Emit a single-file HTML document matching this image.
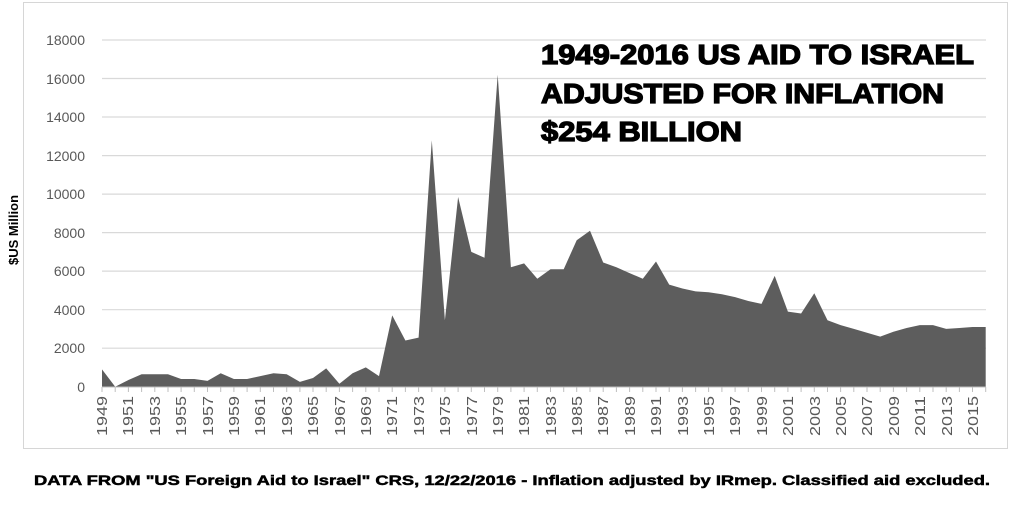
<!DOCTYPE html>
<html><head><meta charset="utf-8"><style>
html,body{margin:0;padding:0;background:#fff;width:1024px;height:512px;overflow:hidden}
svg{display:block}
</style></head><body>
<svg width="1024" height="512" viewBox="0 0 1024 512" xmlns="http://www.w3.org/2000/svg" font-family="Liberation Sans, Arial, sans-serif">
<rect x="0" y="0" width="1024" height="512" fill="#fff"/>
<rect x="23.5" y="2.5" width="984" height="446" fill="none" stroke="#d6d6d6" stroke-width="1"/>
<g stroke="#d9d9d9" stroke-width="1.2">
<line x1="102" x2="986" y1="40.0" y2="40.0"/>
<line x1="102" x2="986" y1="78.5" y2="78.5"/>
<line x1="102" x2="986" y1="117.0" y2="117.0"/>
<line x1="102" x2="986" y1="155.6" y2="155.6"/>
<line x1="102" x2="986" y1="194.1" y2="194.1"/>
<line x1="102" x2="986" y1="232.6" y2="232.6"/>
<line x1="102" x2="986" y1="271.1" y2="271.1"/>
<line x1="102" x2="986" y1="309.7" y2="309.7"/>
<line x1="102" x2="986" y1="348.2" y2="348.2"/>
</g>
<g font-size="14" fill="#595959" text-anchor="end">
<text x="85" y="45">18000</text>
<text x="85" y="84">16000</text>
<text x="85" y="122">14000</text>
<text x="85" y="161">12000</text>
<text x="85" y="199">10000</text>
<text x="85" y="238">8000</text>
<text x="85" y="276">6000</text>
<text x="85" y="315">4000</text>
<text x="85" y="353">2000</text>
<text x="85" y="392">0</text>
</g>
<path fill="#5d5d5d" d="M102,386.7 L102,369.4 L115.2,386.7 L128.4,380.0 L141.6,374.2 L154.8,374.2 L168.0,374.2 L181.1,379.0 L194.3,379.0 L207.5,380.9 L220.7,373.2 L233.9,379.0 L247.1,379.0 L260.3,376.1 L273.5,373.2 L286.7,374.2 L299.9,381.9 L313.0,378.0 L326.2,368.4 L339.4,383.8 L352.6,373.2 L365.8,367.4 L379.0,376.1 L392.2,315.4 L405.4,340.5 L418.6,337.6 L431.8,140.2 L444.9,320.3 L458.1,197.0 L471.3,251.9 L484.5,257.7 L497.7,74.7 L510.9,267.3 L524.1,263.4 L537.3,278.8 L550.5,269.2 L563.7,269.2 L576.7,240.3 L590.0,230.7 L603.2,262.5 L616.4,267.3 L629.6,273.1 L642.8,278.8 L656.0,261.5 L669.2,284.6 L682.4,288.5 L695.6,291.4 L708.6,292.3 L721.9,294.3 L735.1,297.1 L748.3,301.0 L761.5,303.9 L774.7,275.9 L787.9,311.6 L801.1,313.5 L814.3,293.3 L827.5,320.3 L840.6,325.1 L853.8,328.9 L867.0,332.8 L880.2,336.6 L893.4,331.8 L906.6,328.0 L919.8,325.1 L933.0,325.1 L946.2,328.9 L959.4,328.0 L972.5,327.0 L985.7,327.0 L985.7,386.7 Z"/>
<line x1="102" x2="986" y1="387" y2="387" stroke="#bfbfbf" stroke-width="1"/>
<path stroke="#bfbfbf" stroke-width="1" d="M102,387v5M115.2,387v5M128.4,387v5M141.6,387v5M154.8,387v5M168,387v5M181.1,387v5M194.3,387v5M207.5,387v5M220.7,387v5M233.9,387v5M247.1,387v5M260.3,387v5M273.5,387v5M286.7,387v5M299.9,387v5M313,387v5M326.2,387v5M339.4,387v5M352.6,387v5M365.8,387v5M379,387v5M392.2,387v5M405.4,387v5M418.6,387v5M431.8,387v5M444.9,387v5M458.1,387v5M471.3,387v5M484.5,387v5M497.7,387v5M510.9,387v5M524.1,387v5M537.3,387v5M550.5,387v5M563.7,387v5M576.7,387v5M590,387v5M603.2,387v5M616.4,387v5M629.6,387v5M642.8,387v5M656,387v5M669.2,387v5M682.4,387v5M695.6,387v5M708.6,387v5M721.9,387v5M735.1,387v5M748.3,387v5M761.5,387v5M774.7,387v5M787.9,387v5M801.1,387v5M814.3,387v5M827.5,387v5M840.6,387v5M853.8,387v5M867,387v5M880.2,387v5M893.4,387v5M906.6,387v5M919.8,387v5M933,387v5M946.2,387v5M959.4,387v5M972.5,387v5M985.7,387v5"/>
<g font-size="15" fill="#595959" text-anchor="end">
<text transform="translate(107,396) rotate(-90)" textLength="40" lengthAdjust="spacingAndGlyphs">1949</text>
<text transform="translate(133,396) rotate(-90)" textLength="40" lengthAdjust="spacingAndGlyphs">1951</text>
<text transform="translate(160,396) rotate(-90)" textLength="40" lengthAdjust="spacingAndGlyphs">1953</text>
<text transform="translate(186,396) rotate(-90)" textLength="40" lengthAdjust="spacingAndGlyphs">1955</text>
<text transform="translate(213,396) rotate(-90)" textLength="40" lengthAdjust="spacingAndGlyphs">1957</text>
<text transform="translate(239,396) rotate(-90)" textLength="40" lengthAdjust="spacingAndGlyphs">1959</text>
<text transform="translate(265,396) rotate(-90)" textLength="40" lengthAdjust="spacingAndGlyphs">1961</text>
<text transform="translate(292,396) rotate(-90)" textLength="40" lengthAdjust="spacingAndGlyphs">1963</text>
<text transform="translate(318,396) rotate(-90)" textLength="40" lengthAdjust="spacingAndGlyphs">1965</text>
<text transform="translate(345,396) rotate(-90)" textLength="40" lengthAdjust="spacingAndGlyphs">1967</text>
<text transform="translate(371,396) rotate(-90)" textLength="40" lengthAdjust="spacingAndGlyphs">1969</text>
<text transform="translate(397,396) rotate(-90)" textLength="40" lengthAdjust="spacingAndGlyphs">1971</text>
<text transform="translate(424,396) rotate(-90)" textLength="40" lengthAdjust="spacingAndGlyphs">1973</text>
<text transform="translate(450,396) rotate(-90)" textLength="40" lengthAdjust="spacingAndGlyphs">1975</text>
<text transform="translate(477,396) rotate(-90)" textLength="40" lengthAdjust="spacingAndGlyphs">1977</text>
<text transform="translate(503,396) rotate(-90)" textLength="40" lengthAdjust="spacingAndGlyphs">1979</text>
<text transform="translate(529,396) rotate(-90)" textLength="40" lengthAdjust="spacingAndGlyphs">1981</text>
<text transform="translate(556,396) rotate(-90)" textLength="40" lengthAdjust="spacingAndGlyphs">1983</text>
<text transform="translate(582,396) rotate(-90)" textLength="40" lengthAdjust="spacingAndGlyphs">1985</text>
<text transform="translate(608,396) rotate(-90)" textLength="40" lengthAdjust="spacingAndGlyphs">1987</text>
<text transform="translate(635,396) rotate(-90)" textLength="40" lengthAdjust="spacingAndGlyphs">1989</text>
<text transform="translate(661,396) rotate(-90)" textLength="40" lengthAdjust="spacingAndGlyphs">1991</text>
<text transform="translate(688,396) rotate(-90)" textLength="40" lengthAdjust="spacingAndGlyphs">1993</text>
<text transform="translate(714,396) rotate(-90)" textLength="40" lengthAdjust="spacingAndGlyphs">1995</text>
<text transform="translate(740,396) rotate(-90)" textLength="40" lengthAdjust="spacingAndGlyphs">1997</text>
<text transform="translate(767,396) rotate(-90)" textLength="40" lengthAdjust="spacingAndGlyphs">1999</text>
<text transform="translate(793,396) rotate(-90)" textLength="40" lengthAdjust="spacingAndGlyphs">2001</text>
<text transform="translate(820,396) rotate(-90)" textLength="40" lengthAdjust="spacingAndGlyphs">2003</text>
<text transform="translate(846,396) rotate(-90)" textLength="40" lengthAdjust="spacingAndGlyphs">2005</text>
<text transform="translate(872,396) rotate(-90)" textLength="40" lengthAdjust="spacingAndGlyphs">2007</text>
<text transform="translate(899,396) rotate(-90)" textLength="40" lengthAdjust="spacingAndGlyphs">2009</text>
<text transform="translate(925,396) rotate(-90)" textLength="40" lengthAdjust="spacingAndGlyphs">2011</text>
<text transform="translate(952,396) rotate(-90)" textLength="40" lengthAdjust="spacingAndGlyphs">2013</text>
<text transform="translate(978,396) rotate(-90)" textLength="40" lengthAdjust="spacingAndGlyphs">2015</text>
</g>
<text transform="translate(18,230) rotate(-90)" font-size="13" font-weight="bold" fill="#000" text-anchor="middle">$US Million</text>
<g font-size="28" font-weight="bold" fill="#000" stroke="#000" stroke-width="1.3">
<text x="541" y="64" textLength="433" lengthAdjust="spacingAndGlyphs">1949-2016 US AID TO ISRAEL</text>
<text x="541" y="103" textLength="403" lengthAdjust="spacingAndGlyphs">ADJUSTED FOR INFLATION</text>
<text x="541" y="141" textLength="201" lengthAdjust="spacingAndGlyphs">$254 BILLION</text>
</g>
<text x="34" y="485" font-size="14" font-weight="bold" fill="#000" stroke="#000" stroke-width="0.5" textLength="956" lengthAdjust="spacingAndGlyphs">DATA FROM "US Foreign Aid to Israel" CRS, 12/22/2016 - Inflation adjusted by IRmep. Classified aid excluded.</text>
</svg>
</body></html>
